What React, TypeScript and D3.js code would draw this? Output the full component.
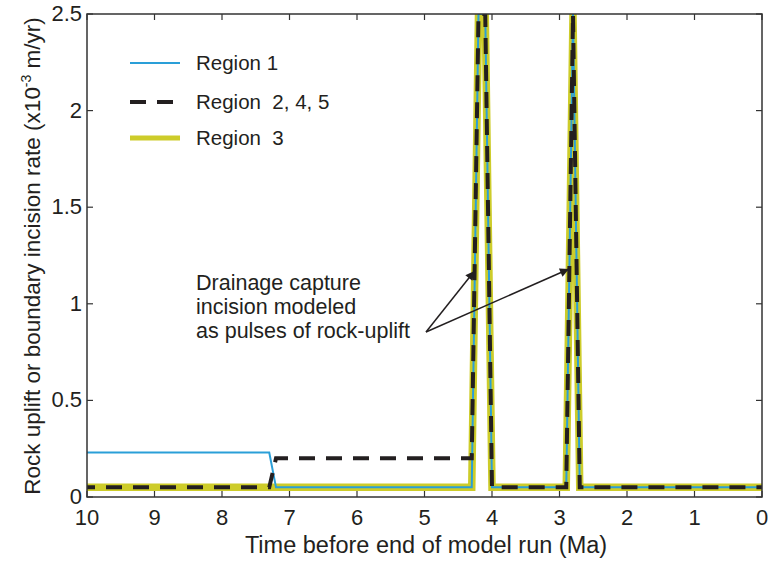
import React from "react";
import * as d3 from "d3";

const timeMa = [10, 7.3, 7.2, 4.3, 4.2, 4.1, 4.0, 2.9, 2.8, 2.7, 0];
const region1 = [0.23, 0.23, 0.05, 0.05, 2.5, 2.5, 0.05, 0.05, 2.5, 0.05, 0.05];
const region245 = [0.05, 0.05, 0.2, 0.2, 2.5, 2.5, 0.05, 0.05, 2.5, 0.05, 0.05];
const region3 = [0.05, 0.05, 0.05, 0.05, 2.5, 2.5, 0.05, 0.05, 2.5, 0.05, 0.05];

const xTicks = [10, 9, 8, 7, 6, 5, 4, 3, 2, 1, 0];
const yTicks = [0, 0.5, 1, 1.5, 2, 2.5];
const yTickLabels = ["0", "0.5", "1", "1.5", "2", "2.5"];

const legendItems = ["Region 1", "Region  2, 4, 5", "Region  3"];
const annotationLines = ["Drainage capture", "incision modeled", "as pulses of rock-uplift"];

const W = 771, H = 563;
const L = 87, R = 762, T = 14, B = 497;
const FONT = "'Liberation Sans', Arial, Helvetica, sans-serif";
const AX = "#333";
const BLUE = "#2a9fd8";
const YEL = "#cdcc2a";
const BLK = "#231f20";

export default function App() {
  const x = d3.scaleLinear().domain([10, 0]).range([L, R]);
  const y = d3.scaleLinear().domain([0, 2.5]).range([B, T]);
  const mk = (vals: number[]) =>
    d3.line<number>().x((_, i) => x(timeMa[i])).y((v) => y(v))(vals) || "";

  const tl = 6;
  const legendY = [63, 102, 138];
  const arrowStart = { x: 426, y: 332 };
  const arrowTargets = [
    { t: 4.26, v: 1.17 },
    { t: 2.86, v: 1.18 },
  ];

  return (
    <svg width={W} height={H} style={{ position: "absolute", left: 0, top: 0, background: "#fff" }} fontFamily={FONT}>
      <defs>
        <clipPath id="plot">
          <rect x={L} y={T} width={R - L} height={B - T} />
        </clipPath>
        <marker id="ah" viewBox="0 0 10 10" refX="10" refY="5" markerWidth="12" markerHeight="9" markerUnits="userSpaceOnUse" orient="auto">
          <path d="M0,0 L10,5 L0,10 Z" fill={BLK} />
        </marker>
      </defs>
      <rect width={W} height={H} fill="#fff" />

      <g clipPath="url(#plot)" fill="none" strokeLinejoin="miter">
        <path d={mk(region3)} stroke={YEL} strokeWidth={7.5} />
        <path d={mk(region1)} stroke={BLUE} strokeWidth={2} />
        <path d={mk(region245)} stroke={BLK} strokeWidth={4} strokeDasharray="16 11" strokeDashoffset={8} />
      </g>

      <rect x={L} y={T} width={R - L} height={B - T} fill="none" stroke={AX} strokeWidth={1.5} />
      {xTicks.map((t) => (
        <g key={"x" + t}>
          <line x1={x(t)} x2={x(t)} y1={B} y2={B - tl} stroke={AX} strokeWidth={1.2} />
          <line x1={x(t)} x2={x(t)} y1={T} y2={T + tl} stroke={AX} strokeWidth={1.2} />
          <text x={x(t)} y={B + 28} textAnchor="middle" fontSize={22} fill={BLK}>{t}</text>
        </g>
      ))}
      {yTicks.map((t, i) => (
        <g key={"y" + t}>
          <line x1={L} x2={L + tl} y1={y(t)} y2={y(t)} stroke={AX} strokeWidth={1.2} />
          <line x1={R} x2={R - tl} y1={y(t)} y2={y(t)} stroke={AX} strokeWidth={1.2} />
          <text x={L - 5} y={y(t) + 7} textAnchor="end" fontSize={22} fill={BLK}>{yTickLabels[i]}</text>
        </g>
      ))}

      <text x={426} y={553} textAnchor="middle" fontSize={23.5} fill={BLK}>
        Time before end of model run (Ma)
      </text>
      <text transform={`translate(40,${256}) rotate(-90)`} textAnchor="middle" fontSize={22.5} fill={BLK}>
        Rock uplift or boundary incision rate (x10<tspan dy={-9} fontSize={14}>-3</tspan><tspan dy={9}> m/yr)</tspan>
      </text>

      <line x1={130} x2={180} y1={legendY[0]} y2={legendY[0]} stroke={BLUE} strokeWidth={2} />
      <line x1={130} x2={180} y1={legendY[1]} y2={legendY[1]} stroke={BLK} strokeWidth={4} strokeDasharray="16 11" />
      <line x1={130} x2={180} y1={legendY[2]} y2={legendY[2]} stroke={YEL} strokeWidth={5} />
      {legendItems.map((s, i) => (
        <text key={s} x={196} y={legendY[i] + 7} fontSize={20.5} fill={BLK} style={{ whiteSpace: "pre" }}>{s}</text>
      ))}

      {annotationLines.map((s, i) => (
        <text key={s} x={196} y={290 + i * 24} fontSize={21.5} fill={BLK}>{s}</text>
      ))}
      {arrowTargets.map((a, i) => (
        <line key={i} x1={arrowStart.x} y1={arrowStart.y} x2={x(a.t)} y2={y(a.v)} stroke={BLK} strokeWidth={1.5} markerEnd="url(#ah)" />
      ))}
    </svg>
  );
}
